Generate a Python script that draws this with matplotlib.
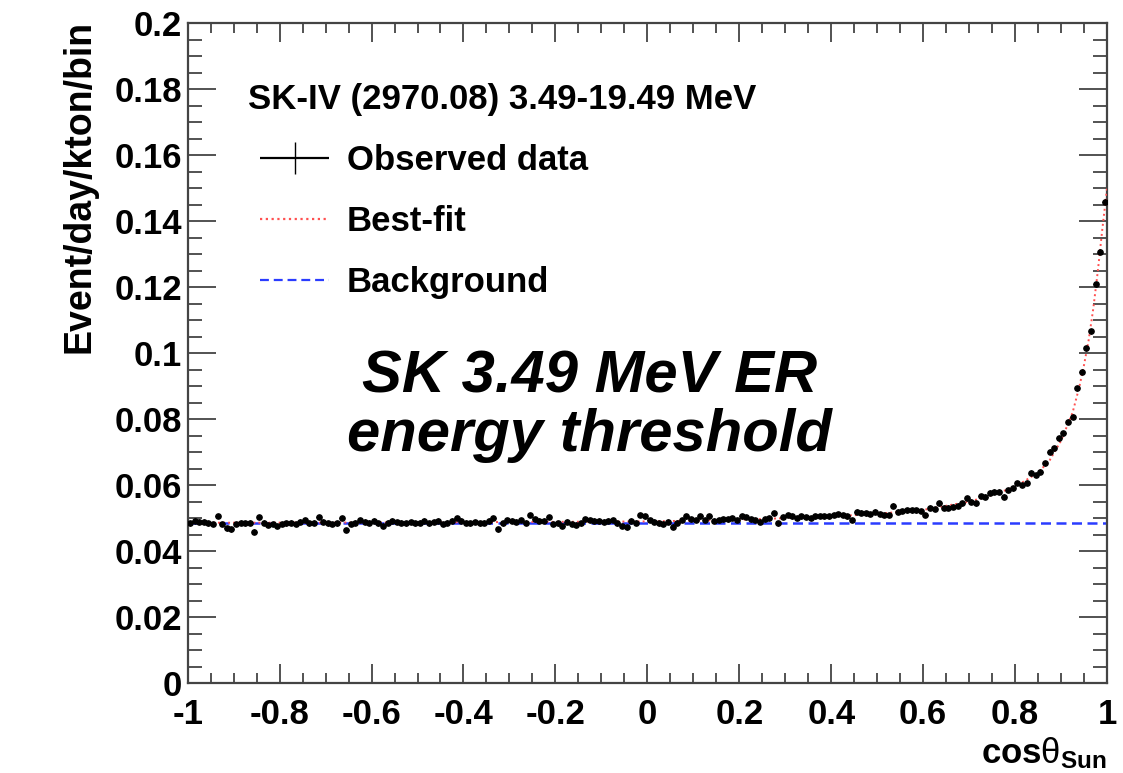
import numpy as np
import matplotlib
matplotlib.use("Agg")
import matplotlib.pyplot as plt
from matplotlib.ticker import MultipleLocator
from matplotlib.legend_handler import HandlerErrorbar

# ---------------- data ----------------
n_bins = 200
x_lo, x_hi = -1.0, 1.0

observed = [
    # -0.995 ... -0.515
    0.0484, 0.0492, 0.0489, 0.0489, 0.0484, 0.0482, 0.0507, 0.0482, 0.0469, 0.0466,
    0.0482, 0.0486, 0.0484, 0.0486, 0.0459, 0.0503, 0.0486, 0.0479, 0.0482, 0.0476,
    0.0482, 0.0484, 0.0486, 0.0482, 0.0489, 0.0494, 0.0484, 0.0486, 0.0503, 0.0489,
    0.0484, 0.0482, 0.0484, 0.0500, 0.0464, 0.0482, 0.0486, 0.0494, 0.0489, 0.0486,
    0.0492, 0.0484, 0.0476, 0.0486, 0.0492, 0.0488, 0.0486, 0.0484, 0.0488,
    # -0.505 ... -0.015
    0.0484, 0.0486, 0.0492, 0.0484, 0.0488, 0.0492, 0.0482, 0.0486, 0.0492, 0.0500,
    0.0492, 0.0486, 0.0484, 0.0488, 0.0484, 0.0486, 0.0492, 0.0500, 0.0466, 0.0484,
    0.0494, 0.0492, 0.0489, 0.0494, 0.0486, 0.0510, 0.0496, 0.0492, 0.0492, 0.0503,
    0.0482, 0.0484, 0.0476, 0.0489, 0.0482, 0.0479, 0.0484, 0.0496, 0.0494, 0.0492,
    0.0492, 0.0489, 0.0492, 0.0494, 0.0484, 0.0476, 0.0472, 0.0492, 0.0486, 0.0510,
    # -0.005 ... 0.485
    0.0505, 0.0494, 0.0489, 0.0484, 0.0482, 0.0489, 0.0474, 0.0486, 0.0494, 0.0505,
    0.0496, 0.0494, 0.0505, 0.0494, 0.0507, 0.0492, 0.0494, 0.0496, 0.0496, 0.0500,
    0.0494, 0.0505, 0.0503, 0.0496, 0.0494, 0.0489, 0.0496, 0.0500, 0.0515, 0.0484,
    0.0503, 0.0510, 0.0505, 0.0500, 0.0505, 0.0503, 0.0500, 0.0505, 0.0507, 0.0505,
    0.0505, 0.0510, 0.0513, 0.0510, 0.0505, 0.0494, 0.0520, 0.0517, 0.0515, 0.0513,
    # 0.495 ... 0.995
    0.0520, 0.0512, 0.0510, 0.0510, 0.0538, 0.0520, 0.0522, 0.0524, 0.0524, 0.0524,
    0.0522, 0.0510, 0.0532, 0.0528, 0.0545, 0.0532, 0.0532, 0.0535, 0.0538, 0.0545,
    0.0560, 0.0550, 0.0545, 0.0567, 0.0565, 0.0577, 0.0580, 0.0580, 0.0565, 0.0585,
    0.0590, 0.0606, 0.0600, 0.0606, 0.0638, 0.0631, 0.0641, 0.0666, 0.0702, 0.0712,
    0.0742, 0.0757, 0.0793, 0.0808, 0.0894, 0.0944, 0.1015, 0.1066, 0.1209, 0.1308,
    0.1460,
]
observed_err = 0.0007

fit_x = [-1.0, -0.5, 0.0, 0.2, 0.4, 0.5, 0.6, 0.7, 0.75, 0.8, 0.85, 0.875,
         0.9, 0.925, 0.94, 0.95, 0.96, 0.97, 0.98, 0.99, 1.0]
fit_y = [0.0486, 0.0487, 0.0490, 0.0495, 0.0505, 0.0513, 0.0525, 0.0550, 0.0570,
         0.0595, 0.0638, 0.0675, 0.0735, 0.0820, 0.0900, 0.0965, 0.1040, 0.1135,
         0.1250, 0.1380, 0.1500]

background_level = 0.0485

x_tick_values = [-1, -0.8, -0.6, -0.4, -0.2, 0, 0.2, 0.4, 0.6, 0.8, 1]
x_tick_labels = ["-1", "-0.8", "-0.6", "-0.4", "-0.2", "0", "0.2", "0.4", "0.6", "0.8", "1"]
y_tick_values = [0, 0.02, 0.04, 0.06, 0.08, 0.1, 0.12, 0.14, 0.16, 0.18, 0.2]
y_tick_labels = ["0", "0.02", "0.04", "0.06", "0.08", "0.1", "0.12", "0.14", "0.16", "0.18", "0.2"]

header_text = "SK-IV (2970.08) 3.49-19.49 MeV"
legend_labels = ["Observed data", "Best-fit", "Background"]
annotation = "SK 3.49 MeV ER\nenergy threshold"
y_title = "Event/day/kton/bin"
x_title = r"cos$\theta_{\mathbf{Sun}}$"

# ---------------- style ----------------
plt.rcParams["font.family"] = ["Liberation Sans", "DejaVu Sans"]
plt.rcParams["font.weight"] = "bold"
plt.rcParams["axes.labelweight"] = "bold"
plt.rcParams["mathtext.fontset"] = "custom"
plt.rcParams["mathtext.rm"] = "Liberation Sans:normal"
plt.rcParams["mathtext.it"] = "Liberation Sans:normal"
plt.rcParams["mathtext.bf"] = "Liberation Sans:bold"

FS = 25

fig = plt.figure(figsize=(11.23, 7.73), dpi=100)
ax = fig.add_axes([0.1671, 0.1164, 0.8187, 0.8532])

edges = np.linspace(x_lo, x_hi, n_bins + 1)
centers = 0.5 * (edges[:-1] + edges[1:])
half_w = 0.5 * (x_hi - x_lo) / n_bins

h_bg, = ax.plot([x_lo, x_hi], [background_level, background_level],
                color="#2a3cff", lw=1.8, dashes=(4.0, 2.2), zorder=2)
h_fit, = ax.plot(fit_x, fit_y, color="#ff5050", lw=1.4, dashes=(1.0, 1.6), zorder=3)
h_data = ax.errorbar(centers, observed, yerr=observed_err, xerr=half_w,
                     fmt="o", ms=3.8, color="black", ecolor="black",
                     elinewidth=1.0, capsize=0, zorder=4)

ax.set_xlim(x_lo, x_hi)
ax.set_ylim(0, 0.2)
ax.set_xticks(x_tick_values, labels=x_tick_labels)
ax.set_yticks(y_tick_values, labels=y_tick_labels)
ax.xaxis.set_minor_locator(MultipleLocator(0.05))
ax.yaxis.set_minor_locator(MultipleLocator(0.005))

ax.tick_params(which="both", direction="in", top=True, right=True,
               color="#444444", width=1.3, labelsize=FS)
ax.tick_params(axis="y", which="major", length=20, pad=4)
ax.tick_params(axis="y", which="minor", length=10)
ax.tick_params(axis="x", which="major", length=14, pad=11)
ax.tick_params(axis="x", which="minor", length=7)
for s in ax.spines.values():
    s.set_color("#444444")
    s.set_linewidth(1.6)

ax.set_ylabel(y_title, fontsize=27, fontweight="bold", loc="top")
ax.yaxis.set_label_coords(-0.098, 1.005)
ax.set_xlabel(x_title, fontsize=FS, fontweight="bold", loc="right", labelpad=3)

ax.text(0.0656, 0.885, header_text, transform=ax.transAxes, fontsize=FS,
        ha="left", va="center")

leg = ax.legend([h_data, h_fit, h_bg], legend_labels, loc="upper left",
                bbox_to_anchor=(0.0786, 0.817), frameon=False, fontsize=FS,
                handlelength=2.0, handletextpad=0.5, labelspacing=0.8,
                borderpad=0, borderaxespad=0, markerscale=0.01,
                handler_map={type(h_data): HandlerErrorbar(xerr_size=1.0, yerr_size=0.47)})
for lh in leg.legend_handles:
    try:
        lh.set_linewidth(1.6)
    except Exception:
        pass

ax.text(-0.125, 0.084, annotation, fontsize=43, style="italic", weight="bold",
        ha="center", va="center", linespacing=1.08)

fig.savefig("out.png", dpi=100)
